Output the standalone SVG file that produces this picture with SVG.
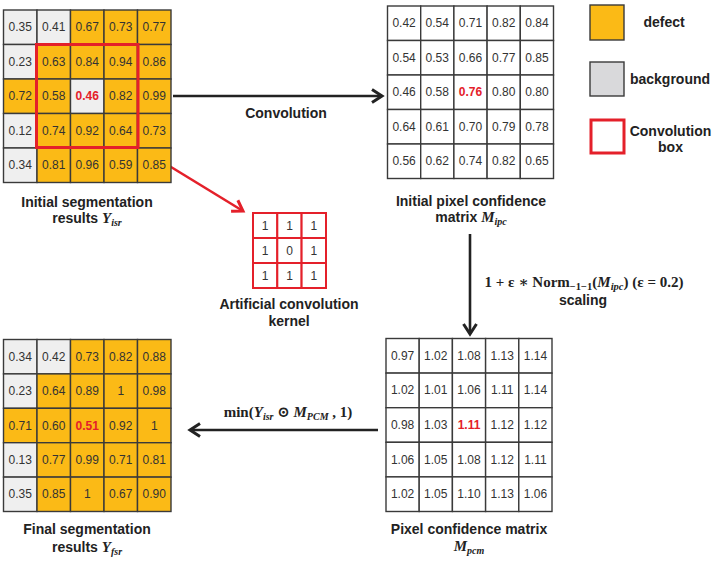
<svg xmlns="http://www.w3.org/2000/svg" width="716" height="561" viewBox="0 0 716 561">
<style>
.o{fill:#FBBA16;stroke:#3a3a3a;stroke-width:1.4}
.g{fill:#EFEFEF;stroke:#3a3a3a;stroke-width:1.4}
.w{fill:#ffffff;stroke:#3a3a3a;stroke-width:1.4}
.k{fill:#ffffff;stroke:#E4202A;stroke-width:2}
text{font-family:"Liberation Sans",Arial,sans-serif}
.n{font-size:12px;fill:#333333;text-anchor:middle}
.r{font-size:12px;fill:#E4202A;font-weight:bold;text-anchor:middle}
.lb{font-size:14px;font-weight:bold;fill:#222222;text-anchor:middle}
.m{font-family:"Liberation Serif","DejaVu Serif",serif;font-size:15px;font-weight:bold;fill:#222222}
.mi{font-family:"Liberation Serif","DejaVu Serif",serif;font-style:italic;font-weight:bold}
.ln{stroke:#222222;stroke-width:2.6;fill:none}
.rl{stroke:#E4202A;stroke-width:2.6;fill:none}
</style>
<defs>
<marker id="ah" markerUnits="userSpaceOnUse" markerWidth="14" markerHeight="16" refX="11" refY="8" orient="auto">
<path d="M1,1.5 L11,8 L1,14.5" fill="none" stroke="#222222" stroke-width="3"/>
</marker>
<marker id="ahr" markerUnits="userSpaceOnUse" markerWidth="14" markerHeight="16" refX="11" refY="8" orient="auto">
<path d="M1,1.5 L11,8 L1,14.5" fill="none" stroke="#E4202A" stroke-width="3"/>
</marker>
</defs>

<g id="connectors">
<line class="ln" x1="173" y1="96" x2="382" y2="96" marker-end="url(#ah)"/>
<line class="ln" x1="470" y1="234" x2="470" y2="334" marker-end="url(#ah)"/>
<line class="ln" x1="378" y1="430" x2="190" y2="430" marker-end="url(#ah)"/>
<line class="rl" x1="137.5" y1="146.5" x2="243" y2="211" marker-end="url(#ahr)"/>
<text class="lb" x="286" y="118">Convolution</text>
<text class="m" x="584" y="287" text-anchor="middle" font-size="15.6">1 + ε ∗ Norm<tspan font-size="10.5" dy="3">−1−1</tspan><tspan dy="-3">(</tspan><tspan class="mi">M</tspan><tspan class="mi" font-size="10.5" dy="3">ipc</tspan><tspan dy="-3">) (ε = 0.2)</tspan></text>
<text class="lb" x="583" y="305">scaling</text>
<text class="m" x="288" y="417" text-anchor="middle">min(<tspan class="mi">Y</tspan><tspan class="mi" font-size="10" dy="3">isr</tspan><tspan dy="-3"> ⊙ </tspan><tspan class="mi">M</tspan><tspan class="mi" font-size="10" dy="3">PCM</tspan><tspan dy="-3"> , 1)</tspan></text>
</g>

<g id="initial-segmentation">
<rect class="g" x="3.5" y="10" width="33.5" height="34.5"/><rect class="g" x="37" y="10" width="33.5" height="34.5"/><rect class="o" x="70.5" y="10" width="33.5" height="34.5"/><rect class="o" x="104" y="10" width="33.5" height="34.5"/><rect class="o" x="137.5" y="10" width="33.5" height="34.5"/>
<rect class="g" x="3.5" y="44.5" width="33.5" height="34.5"/><rect class="o" x="37" y="44.5" width="33.5" height="34.5"/><rect class="o" x="70.5" y="44.5" width="33.5" height="34.5"/><rect class="o" x="104" y="44.5" width="33.5" height="34.5"/><rect class="o" x="137.5" y="44.5" width="33.5" height="34.5"/>
<rect class="o" x="3.5" y="79" width="33.5" height="34.5"/><rect class="o" x="37" y="79" width="33.5" height="34.5"/><rect class="g" x="70.5" y="79" width="33.5" height="34.5"/><rect class="o" x="104" y="79" width="33.5" height="34.5"/><rect class="o" x="137.5" y="79" width="33.5" height="34.5"/>
<rect class="g" x="3.5" y="113.5" width="33.5" height="34.5"/><rect class="o" x="37" y="113.5" width="33.5" height="34.5"/><rect class="o" x="70.5" y="113.5" width="33.5" height="34.5"/><rect class="o" x="104" y="113.5" width="33.5" height="34.5"/><rect class="o" x="137.5" y="113.5" width="33.5" height="34.5"/>
<rect class="g" x="3.5" y="148" width="33.5" height="34.5"/><rect class="o" x="37" y="148" width="33.5" height="34.5"/><rect class="o" x="70.5" y="148" width="33.5" height="34.5"/><rect class="o" x="104" y="148" width="33.5" height="34.5"/><rect class="o" x="137.5" y="148" width="33.5" height="34.5"/>
<text class="n" x="20.25" y="31.3">0.35</text><text class="n" x="53.75" y="31.3">0.41</text><text class="n" x="87.25" y="31.3">0.67</text><text class="n" x="120.75" y="31.3">0.73</text><text class="n" x="154.25" y="31.3">0.77</text>
<text class="n" x="20.25" y="65.8">0.23</text><text class="n" x="53.75" y="65.8">0.63</text><text class="n" x="87.25" y="65.8">0.84</text><text class="n" x="120.75" y="65.8">0.94</text><text class="n" x="154.25" y="65.8">0.86</text>
<text class="n" x="20.25" y="100.3">0.72</text><text class="n" x="53.75" y="100.3">0.58</text><text class="r" x="87.25" y="100.3">0.46</text><text class="n" x="120.75" y="100.3">0.82</text><text class="n" x="154.25" y="100.3">0.99</text>
<text class="n" x="20.25" y="134.8">0.12</text><text class="n" x="53.75" y="134.8">0.74</text><text class="n" x="87.25" y="134.8">0.92</text><text class="n" x="120.75" y="134.8">0.64</text><text class="n" x="154.25" y="134.8">0.73</text>
<text class="n" x="20.25" y="169.3">0.34</text><text class="n" x="53.75" y="169.3">0.81</text><text class="n" x="87.25" y="169.3">0.96</text><text class="n" x="120.75" y="169.3">0.59</text><text class="n" x="154.25" y="169.3">0.85</text>
<rect x="36.5" y="44.5" width="101.5" height="103" fill="none" stroke="#E4202A" stroke-width="3"/>
<text class="lb" x="87" y="207">Initial segmentation</text>
<text class="lb" x="87" y="223">results <tspan class="mi" font-size="15">Y</tspan><tspan class="mi" font-size="10" dy="3">isr</tspan></text>
</g>

<g id="initial-pixel-confidence">
<rect class="w" x="387.5" y="6" width="33.2" height="34.5"/><rect class="w" x="420.7" y="6" width="33.2" height="34.5"/><rect class="w" x="453.9" y="6" width="33.2" height="34.5"/><rect class="w" x="487.1" y="6" width="33.2" height="34.5"/><rect class="w" x="520.3" y="6" width="33.2" height="34.5"/>
<rect class="w" x="387.5" y="40.5" width="33.2" height="34.5"/><rect class="w" x="420.7" y="40.5" width="33.2" height="34.5"/><rect class="w" x="453.9" y="40.5" width="33.2" height="34.5"/><rect class="w" x="487.1" y="40.5" width="33.2" height="34.5"/><rect class="w" x="520.3" y="40.5" width="33.2" height="34.5"/>
<rect class="w" x="387.5" y="75" width="33.2" height="34.5"/><rect class="w" x="420.7" y="75" width="33.2" height="34.5"/><rect class="w" x="453.9" y="75" width="33.2" height="34.5"/><rect class="w" x="487.1" y="75" width="33.2" height="34.5"/><rect class="w" x="520.3" y="75" width="33.2" height="34.5"/>
<rect class="w" x="387.5" y="109.5" width="33.2" height="34.5"/><rect class="w" x="420.7" y="109.5" width="33.2" height="34.5"/><rect class="w" x="453.9" y="109.5" width="33.2" height="34.5"/><rect class="w" x="487.1" y="109.5" width="33.2" height="34.5"/><rect class="w" x="520.3" y="109.5" width="33.2" height="34.5"/>
<rect class="w" x="387.5" y="144" width="33.2" height="34.5"/><rect class="w" x="420.7" y="144" width="33.2" height="34.5"/><rect class="w" x="453.9" y="144" width="33.2" height="34.5"/><rect class="w" x="487.1" y="144" width="33.2" height="34.5"/><rect class="w" x="520.3" y="144" width="33.2" height="34.5"/>
<text class="n" x="404.1" y="27.3">0.42</text><text class="n" x="437.3" y="27.3">0.54</text><text class="n" x="470.5" y="27.3">0.71</text><text class="n" x="503.7" y="27.3">0.82</text><text class="n" x="536.9" y="27.3">0.84</text>
<text class="n" x="404.1" y="61.8">0.54</text><text class="n" x="437.3" y="61.8">0.53</text><text class="n" x="470.5" y="61.8">0.66</text><text class="n" x="503.7" y="61.8">0.77</text><text class="n" x="536.9" y="61.8">0.85</text>
<text class="n" x="404.1" y="96.3">0.46</text><text class="n" x="437.3" y="96.3">0.58</text><text class="r" x="470.5" y="96.3">0.76</text><text class="n" x="503.7" y="96.3">0.80</text><text class="n" x="536.9" y="96.3">0.80</text>
<text class="n" x="404.1" y="130.8">0.64</text><text class="n" x="437.3" y="130.8">0.61</text><text class="n" x="470.5" y="130.8">0.70</text><text class="n" x="503.7" y="130.8">0.79</text><text class="n" x="536.9" y="130.8">0.78</text>
<text class="n" x="404.1" y="165.3">0.56</text><text class="n" x="437.3" y="165.3">0.62</text><text class="n" x="470.5" y="165.3">0.74</text><text class="n" x="503.7" y="165.3">0.82</text><text class="n" x="536.9" y="165.3">0.65</text>
<text class="lb" x="471" y="206">Initial pixel confidence</text>
<text class="lb" x="471" y="222">matrix <tspan class="mi" font-size="15">M</tspan><tspan class="mi" font-size="10" dy="3">ipc</tspan></text>
</g>

<g id="kernel">
<rect class="k" x="253" y="213" width="24.3" height="25"/><rect class="k" x="277.3" y="213" width="24.3" height="25"/><rect class="k" x="301.6" y="213" width="24.4" height="25"/>
<rect class="k" x="253" y="238" width="24.3" height="25"/><rect class="k" x="277.3" y="238" width="24.3" height="25"/><rect class="k" x="301.6" y="238" width="24.4" height="25"/>
<rect class="k" x="253" y="263" width="24.3" height="25"/><rect class="k" x="277.3" y="263" width="24.3" height="25"/><rect class="k" x="301.6" y="263" width="24.4" height="25"/>
<text class="n" x="265.2" y="229.5">1</text><text class="n" x="289.5" y="229.5">1</text><text class="n" x="313.8" y="229.5">1</text>
<text class="n" x="265.2" y="254.5">1</text><text class="n" x="289.5" y="254.5">0</text><text class="n" x="313.8" y="254.5">1</text>
<text class="n" x="265.2" y="279.5">1</text><text class="n" x="289.5" y="279.5">1</text><text class="n" x="313.8" y="279.5">1</text>
<text class="lb" x="289" y="309">Artificial convolution</text>
<text class="lb" x="289" y="326">kernel</text>
</g>

<g id="pixel-confidence">
<rect class="w" x="386" y="338.5" width="33.2" height="34.6"/><rect class="w" x="419.2" y="338.5" width="33.2" height="34.6"/><rect class="w" x="452.4" y="338.5" width="33.2" height="34.6"/><rect class="w" x="485.6" y="338.5" width="33.2" height="34.6"/><rect class="w" x="518.8" y="338.5" width="33.2" height="34.6"/>
<rect class="w" x="386" y="373.1" width="33.2" height="34.6"/><rect class="w" x="419.2" y="373.1" width="33.2" height="34.6"/><rect class="w" x="452.4" y="373.1" width="33.2" height="34.6"/><rect class="w" x="485.6" y="373.1" width="33.2" height="34.6"/><rect class="w" x="518.8" y="373.1" width="33.2" height="34.6"/>
<rect class="w" x="386" y="407.7" width="33.2" height="34.6"/><rect class="w" x="419.2" y="407.7" width="33.2" height="34.6"/><rect class="w" x="452.4" y="407.7" width="33.2" height="34.6"/><rect class="w" x="485.6" y="407.7" width="33.2" height="34.6"/><rect class="w" x="518.8" y="407.7" width="33.2" height="34.6"/>
<rect class="w" x="386" y="442.3" width="33.2" height="34.6"/><rect class="w" x="419.2" y="442.3" width="33.2" height="34.6"/><rect class="w" x="452.4" y="442.3" width="33.2" height="34.6"/><rect class="w" x="485.6" y="442.3" width="33.2" height="34.6"/><rect class="w" x="518.8" y="442.3" width="33.2" height="34.6"/>
<rect class="w" x="386" y="476.9" width="33.2" height="34.6"/><rect class="w" x="419.2" y="476.9" width="33.2" height="34.6"/><rect class="w" x="452.4" y="476.9" width="33.2" height="34.6"/><rect class="w" x="485.6" y="476.9" width="33.2" height="34.6"/><rect class="w" x="518.8" y="476.9" width="33.2" height="34.6"/>
<text class="n" x="402.6" y="359.8">0.97</text><text class="n" x="435.8" y="359.8">1.02</text><text class="n" x="469" y="359.8">1.08</text><text class="n" x="502.2" y="359.8">1.13</text><text class="n" x="535.4" y="359.8">1.14</text>
<text class="n" x="402.6" y="394.4">1.02</text><text class="n" x="435.8" y="394.4">1.01</text><text class="n" x="469" y="394.4">1.06</text><text class="n" x="502.2" y="394.4">1.11</text><text class="n" x="535.4" y="394.4">1.14</text>
<text class="n" x="402.6" y="429">0.98</text><text class="n" x="435.8" y="429">1.03</text><text class="r" x="469" y="429">1.11</text><text class="n" x="502.2" y="429">1.12</text><text class="n" x="535.4" y="429">1.12</text>
<text class="n" x="402.6" y="463.6">1.06</text><text class="n" x="435.8" y="463.6">1.05</text><text class="n" x="469" y="463.6">1.08</text><text class="n" x="502.2" y="463.6">1.12</text><text class="n" x="535.4" y="463.6">1.11</text>
<text class="n" x="402.6" y="498.2">1.02</text><text class="n" x="435.8" y="498.2">1.05</text><text class="n" x="469" y="498.2">1.10</text><text class="n" x="502.2" y="498.2">1.13</text><text class="n" x="535.4" y="498.2">1.06</text>
<text class="lb" x="469" y="534">Pixel confidence matrix</text>
<text class="lb" x="469" y="551"><tspan class="mi" font-size="15">M</tspan><tspan class="mi" font-size="10" dy="3">pcm</tspan></text>
</g>

<g id="final-segmentation">
<rect class="g" x="3.5" y="339.5" width="33.5" height="34.4"/><rect class="g" x="37" y="339.5" width="33.5" height="34.4"/><rect class="o" x="70.5" y="339.5" width="33.5" height="34.4"/><rect class="o" x="104" y="339.5" width="33.5" height="34.4"/><rect class="o" x="137.5" y="339.5" width="33.5" height="34.4"/>
<rect class="g" x="3.5" y="373.9" width="33.5" height="34.4"/><rect class="o" x="37" y="373.9" width="33.5" height="34.4"/><rect class="o" x="70.5" y="373.9" width="33.5" height="34.4"/><rect class="o" x="104" y="373.9" width="33.5" height="34.4"/><rect class="o" x="137.5" y="373.9" width="33.5" height="34.4"/>
<rect class="o" x="3.5" y="408.3" width="33.5" height="34.4"/><rect class="o" x="37" y="408.3" width="33.5" height="34.4"/><rect class="o" x="70.5" y="408.3" width="33.5" height="34.4"/><rect class="o" x="104" y="408.3" width="33.5" height="34.4"/><rect class="o" x="137.5" y="408.3" width="33.5" height="34.4"/>
<rect class="g" x="3.5" y="442.7" width="33.5" height="34.4"/><rect class="o" x="37" y="442.7" width="33.5" height="34.4"/><rect class="o" x="70.5" y="442.7" width="33.5" height="34.4"/><rect class="o" x="104" y="442.7" width="33.5" height="34.4"/><rect class="o" x="137.5" y="442.7" width="33.5" height="34.4"/>
<rect class="g" x="3.5" y="477.1" width="33.5" height="34.4"/><rect class="o" x="37" y="477.1" width="33.5" height="34.4"/><rect class="o" x="70.5" y="477.1" width="33.5" height="34.4"/><rect class="o" x="104" y="477.1" width="33.5" height="34.4"/><rect class="o" x="137.5" y="477.1" width="33.5" height="34.4"/>
<text class="n" x="20.25" y="360.7">0.34</text><text class="n" x="53.75" y="360.7">0.42</text><text class="n" x="87.25" y="360.7">0.73</text><text class="n" x="120.75" y="360.7">0.82</text><text class="n" x="154.25" y="360.7">0.88</text>
<text class="n" x="20.25" y="395.1">0.23</text><text class="n" x="53.75" y="395.1">0.64</text><text class="n" x="87.25" y="395.1">0.89</text><text class="n" x="120.75" y="395.1">1</text><text class="n" x="154.25" y="395.1">0.98</text>
<text class="n" x="20.25" y="429.5">0.71</text><text class="n" x="53.75" y="429.5">0.60</text><text class="r" x="87.25" y="429.5">0.51</text><text class="n" x="120.75" y="429.5">0.92</text><text class="n" x="154.25" y="429.5">1</text>
<text class="n" x="20.25" y="463.9">0.13</text><text class="n" x="53.75" y="463.9">0.77</text><text class="n" x="87.25" y="463.9">0.99</text><text class="n" x="120.75" y="463.9">0.71</text><text class="n" x="154.25" y="463.9">0.81</text>
<text class="n" x="20.25" y="498.3">0.35</text><text class="n" x="53.75" y="498.3">0.85</text><text class="n" x="87.25" y="498.3">1</text><text class="n" x="120.75" y="498.3">0.67</text><text class="n" x="154.25" y="498.3">0.90</text>
<text class="lb" x="87" y="534">Final segmentation</text>
<text class="lb" x="87" y="552">results <tspan class="mi" font-size="15">Y</tspan><tspan class="mi" font-size="10" dy="3">fsr</tspan></text>
</g>

<g id="legend">
<g id="legend-defect"><rect x="590" y="5" width="34" height="35" fill="#FBBA16" stroke="#3a3a3a" stroke-width="1.4"/><text class="lb" x="664" y="27">defect</text></g>
<g id="legend-background"><rect x="590" y="62" width="34" height="34" fill="#D9D9DB" stroke="#3a3a3a" stroke-width="1.4"/><text class="lb" x="670" y="84">background</text></g>
<g id="legend-box"><rect x="591" y="120" width="33" height="33" fill="#ffffff" stroke="#E4202A" stroke-width="3"/><text class="lb" x="670.5" y="136">Convolution</text><text class="lb" x="670.5" y="152">box</text></g>
</g>
</svg>
